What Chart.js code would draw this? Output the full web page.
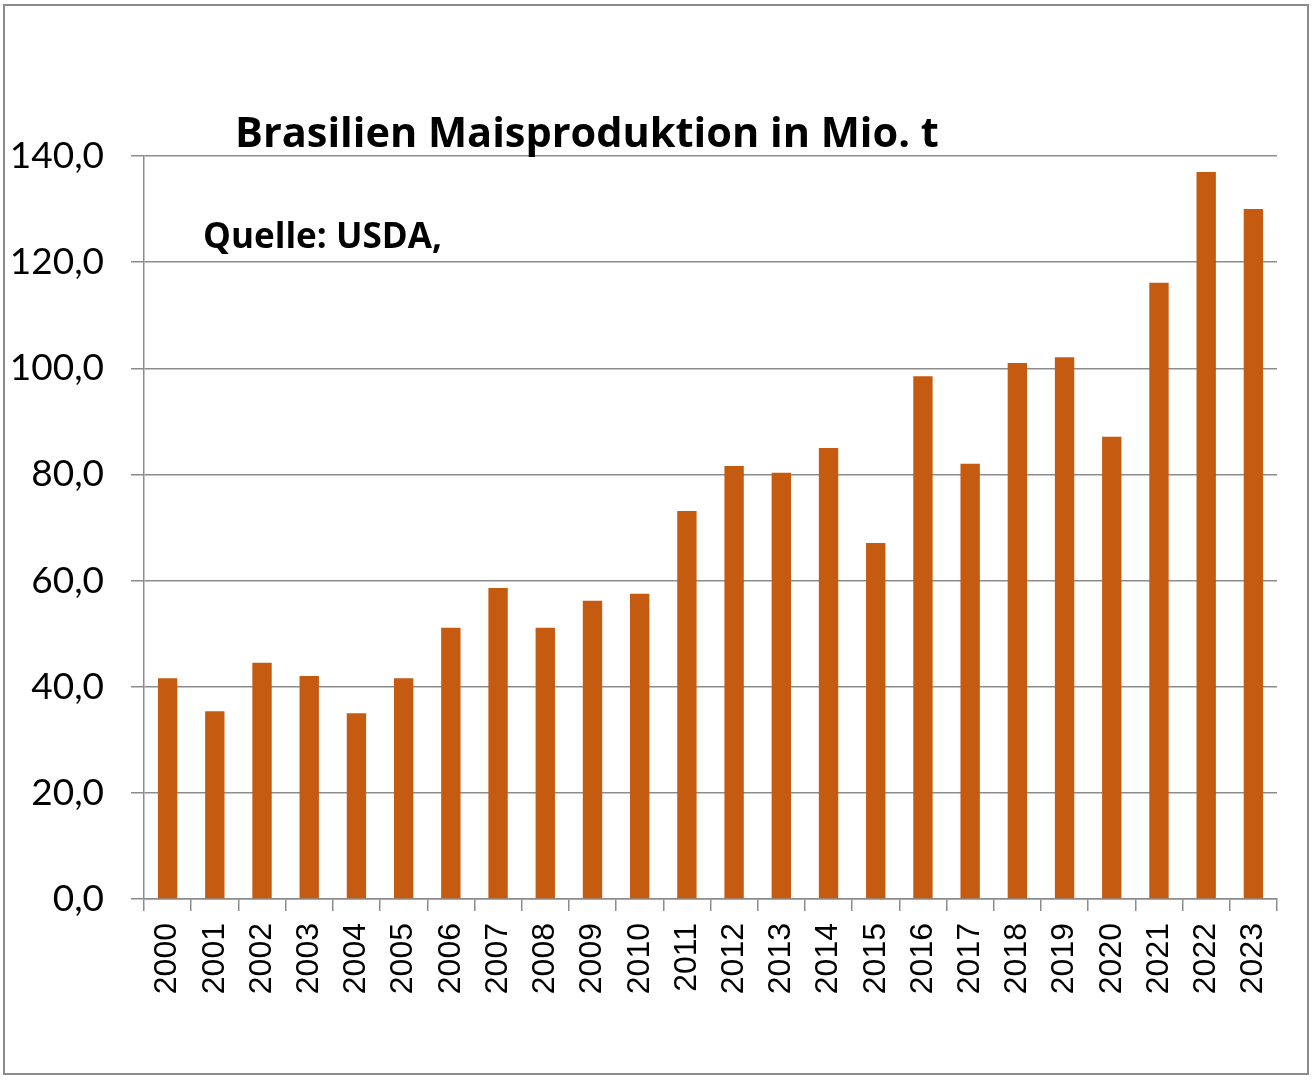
<!DOCTYPE html>
<html lang="de">
<head>
<meta charset="UTF-8">
<title>Brasilien Maisproduktion in Mio. t</title>
<style>
  body { margin:0; background:#fff; }
  .wrap { position:relative; width:1315px; height:1081px; }
  .frame { position:absolute; left:3px; top:4px; width:1302px; height:1067px; border:2px solid #8c8c8c; pointer-events:none; }
  canvas { position:absolute; left:0; top:0; }
</style>
</head>
<body>
<div class="wrap">
  <canvas id="c" width="1315" height="1081"></canvas>
  <div class="frame"></div>
</div>
<script src="https://cdn.jsdelivr.net/npm/chart.js"></script>
<script>
// Daten (Mio. t)
const years = ['2000','2001','2002','2003','2004','2005','2006','2007','2008','2009','2010','2011',
               '2012','2013','2014','2015','2016','2017','2018','2019','2020','2021','2022','2023'];
const production = [41.6, 35.4, 44.5, 42.0, 35.0, 41.6, 51.1, 58.6, 51.1, 56.2, 57.5, 73.1,
                    81.6, 80.3, 85.0, 67.1, 98.5, 82.0, 101.0, 102.1, 87.1, 116.1, 137.0, 130.0];
const yTicks = [0, 20, 40, 60, 80, 100, 120, 140];

const titleText = 'Brasilien Maisproduktion in Mio. t';
const sourceText = 'Quelle: USDA,';

// Text so skalieren, dass er die Breite aus der Vorlage hat
function fitText(c, text, x, y, width, family) {
  c.font = 'bold 40px ' + family;
  const size = 40 * width / c.measureText(text).width;
  c.font = 'bold ' + size.toFixed(1) + 'px ' + family;
  c.fillText(text, x, y);
}

const textPlugin = {
  id: 'texts',
  afterDraw(chart) {
    const c = chart.ctx;
    c.save();
    c.fillStyle = '#000';
    c.textAlign = 'left';
    c.textBaseline = 'alphabetic';
    fitText(c, titleText, 235, 147, 703, '"Open Sans"');
    fitText(c, sourceText, 203, 248, 239, '"Open Sans"');
    c.restore();
  }
};

new Chart(document.getElementById('c'), {
  type: 'bar',
  data: {
    labels: years,
    datasets: [{
      data: production,
      backgroundColor: '#c55a11',
      barPercentage: 0.41,
      categoryPercentage: 1.0
    }]
  },
  options: {
    responsive: false,
    animation: false,
    layout: { padding: { top: 156, right: 38, left: 0, bottom: 0 } },
    plugins: { legend: { display: false }, tooltip: { enabled: false } },
    scales: {
      x: {
        grid: { drawOnChartArea: false, drawTicks: true, tickLength: 12, color: '#8c8c8c', lineWidth: 1.5 },
        border: { color: '#8c8c8c', width: 1.5 },
        ticks: { color: '#000', font: { family: 'Liberation Sans', size: 32 }, minRotation: 90, maxRotation: 90, padding: 12 },
        afterFit(scale) { scale.height = 182; }
      },
      y: {
        min: 0, max: 140,
        afterBuildTicks(scale) { scale.ticks = yTicks.map(v => ({ value: v })); },
        grid: { color: '#8c8c8c', lineWidth: 1.5, tickLength: 13 },
        border: { color: '#8c8c8c', width: 1.5 },
        ticks: {
          color: '#000', padding: 27,
          font: { family: 'Lato', size: 37 },
          callback: v => v.toFixed(1).replace('.', ',')
        },
        afterFit(scale) { scale.width = 144; }
      }
    }
  },
  plugins: [textPlugin]
});
</script>
</body>
</html>
